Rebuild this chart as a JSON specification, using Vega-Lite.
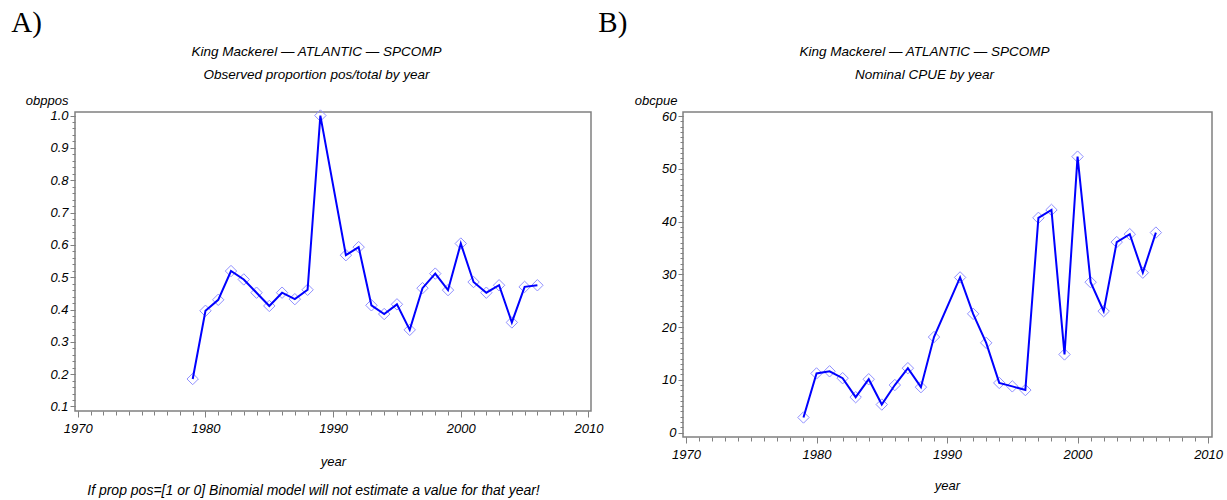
{
  "$schema": "https://vega.github.io/schema/vega-lite/v6.json",
  "background": "white",
  "padding": {"left": 10, "top": 8, "right": 0, "bottom": 0},
  "datasets": {
    "prop": [
      {"year": 1979, "obppos": 0.185},
      {"year": 1980, "obppos": 0.396},
      {"year": 1981, "obppos": 0.430},
      {"year": 1982, "obppos": 0.519},
      {"year": 1983, "obppos": 0.493},
      {"year": 1984, "obppos": 0.452},
      {"year": 1985, "obppos": 0.411},
      {"year": 1986, "obppos": 0.452},
      {"year": 1987, "obppos": 0.432},
      {"year": 1988, "obppos": 0.461},
      {"year": 1989, "obppos": 1.0},
      {"year": 1991, "obppos": 0.568},
      {"year": 1992, "obppos": 0.593},
      {"year": 1993, "obppos": 0.413},
      {"year": 1994, "obppos": 0.386},
      {"year": 1995, "obppos": 0.416},
      {"year": 1996, "obppos": 0.337},
      {"year": 1997, "obppos": 0.466},
      {"year": 1998, "obppos": 0.511},
      {"year": 1999, "obppos": 0.460},
      {"year": 2000, "obppos": 0.604},
      {"year": 2001, "obppos": 0.485},
      {"year": 2002, "obppos": 0.452},
      {"year": 2003, "obppos": 0.475},
      {"year": 2004, "obppos": 0.360},
      {"year": 2005, "obppos": 0.470},
      {"year": 2006, "obppos": 0.475}
    ],
    "cpue": [
      {"year": 1979, "obcpue": 2.85},
      {"year": 1980, "obcpue": 11.2},
      {"year": 1981, "obcpue": 11.6},
      {"year": 1982, "obcpue": 10.3},
      {"year": 1983, "obcpue": 6.7},
      {"year": 1984, "obcpue": 10.1},
      {"year": 1985, "obcpue": 5.3},
      {"year": 1986, "obcpue": 9.0},
      {"year": 1987, "obcpue": 12.2},
      {"year": 1988, "obcpue": 8.6},
      {"year": 1989, "obcpue": 18.1},
      {"year": 1991, "obcpue": 29.4},
      {"year": 1992, "obcpue": 22.5},
      {"year": 1993, "obcpue": 17.0},
      {"year": 1994, "obcpue": 9.4},
      {"year": 1995, "obcpue": 8.75},
      {"year": 1996, "obcpue": 8.05},
      {"year": 1997, "obcpue": 40.7},
      {"year": 1998, "obcpue": 42.2},
      {"year": 1999, "obcpue": 14.8},
      {"year": 2000, "obcpue": 52.3},
      {"year": 2001, "obcpue": 28.5},
      {"year": 2002, "obcpue": 23.0},
      {"year": 2003, "obcpue": 36.1},
      {"year": 2004, "obcpue": 37.6},
      {"year": 2005, "obcpue": 30.3},
      {"year": 2006, "obcpue": 37.9}
    ]
  },
  "config": {
    "view": {"stroke": "#808080", "strokeWidth": 1.5},
    "axis": {
      "labelFont": "Liberation Sans",
      "labelFontStyle": "italic",
      "labelFontSize": 13,
      "labelColor": "#000000",
      "labelFlush": false,
      "labelOverlap": false,
      "labelBound": false,
      "titleFont": "Liberation Sans",
      "titleFontStyle": "italic",
      "titleFontWeight": "normal",
      "titleFontSize": 13,
      "titleColor": "#000000",
      "tickColor": "#808080",
      "tickWidth": 1,
      "domain": false,
      "grid": false
    },
    "title": {
      "font": "Liberation Serif",
      "fontSize": 29,
      "fontWeight": "normal",
      "fontStyle": "normal",
      "color": "#000000",
      "anchor": "start",
      "frame": "bounds",
      "baseline": "alphabetic"
    }
  },
  "spacing": 92,
  "bounds": "flush",
  "hconcat": [
    {
      "width": 516,
      "height": 299,
      "data": {"name": "prop"},
      "title": {"text": "A)", "dx": -14, "offset": 6},
      "layer": [
        {
          "mark": {"type": "point", "shape": "diamond", "filled": false, "size": 130, "stroke": "#9090ff", "strokeWidth": 1, "opacity": 1},
          "encoding": {
            "x": {
              "field": "year", "type": "quantitative",
              "scale": {"domain": [1969.78, 2010.2], "nice": false, "zero": false},
              "axis": {
                "orient": "bottom",
                "values": [1970, 1971, 1972, 1973, 1974, 1975, 1976, 1977, 1978, 1979, 1980, 1981, 1982, 1983, 1984, 1985, 1986, 1987, 1988, 1989, 1990, 1991, 1992, 1993, 1994, 1995, 1996, 1997, 1998, 1999, 2000, 2001, 2002, 2003, 2004, 2005, 2006, 2007, 2008, 2009, 2010],
                "labels": false,
                "tickSize": 4,
                "title": ["King Mackerel — ATLANTIC — SPCOMP", "Observed proportion pos/total by year"],
                "titleFontSize": 13.5,
                "titleLineHeight": 23,
                "titleX": 241,
                "titleY": -356,
                "titleAlign": "center",
                "titleBaseline": "alphabetic"
              }
            },
            "y": {
              "field": "obppos", "type": "quantitative",
              "scale": {"domain": [0.086, 1.011], "nice": false, "zero": false},
              "axis": {
                "orient": "left",
                "values": [0.1, 0.12, 0.14, 0.16, 0.18, 0.2, 0.22, 0.24, 0.26, 0.28, 0.3, 0.32, 0.34, 0.36, 0.38, 0.4, 0.42, 0.44, 0.46, 0.48, 0.5, 0.52, 0.54, 0.56, 0.58, 0.6, 0.62, 0.64, 0.66, 0.68, 0.7, 0.72, 0.74, 0.76, 0.78, 0.8, 0.82, 0.84, 0.86, 0.88, 0.9, 0.92, 0.94, 0.96, 0.98, 1.0],
                "labels": false,
                "tickSize": 3,
                "title": "If prop pos=[1 or 0] Binomial model will not estimate a value for that year!",
                "titleFontSize": 14,
                "titleAngle": 0,
                "titleX": 238,
                "titleY": 382,
                "titleAlign": "center",
                "titleBaseline": "alphabetic"
              }
            }
          }
        },
        {
          "mark": {"type": "line", "color": "#0000ff", "strokeWidth": 2},
          "encoding": {
            "x": {
              "field": "year", "type": "quantitative",
              "scale": {"domain": [1969.78, 2010.2], "nice": false, "zero": false},
              "axis": {
                "orient": "bottom",
                "values": [1970, 1980, 1990, 2000, 2010],
                "format": "d",
                "tickSize": 6,
                "labelPadding": 5,
                "title": "year",
                "titleX": 258,
                "titleY": 54,
                "titleAlign": "center",
                "titleBaseline": "alphabetic"
              }
            },
            "y": {
              "field": "obppos", "type": "quantitative",
              "scale": {"domain": [0.086, 1.011], "nice": false, "zero": false},
              "axis": {
                "orient": "left",
                "values": [0.1, 0.2, 0.3, 0.4, 0.5, 0.6, 0.7, 0.8, 0.9, 1.0],
                "format": ".1f",
                "tickSize": 5,
                "labelPadding": 2,
                "title": "obppos",
                "titleAngle": 0,
                "titleX": -7,
                "titleY": -8,
                "titleAlign": "right",
                "titleBaseline": "alphabetic"
              }
            }
          }
        }
      ],
      "resolve": {"axis": {"x": "independent", "y": "independent"}}
    },
    {
      "width": 529,
      "height": 325,
      "data": {"name": "cpue"},
      "title": {"text": "B)", "dx": -36, "offset": 6},
      "layer": [
        {
          "mark": {"type": "point", "shape": "diamond", "filled": false, "size": 130, "stroke": "#9090ff", "strokeWidth": 1, "opacity": 1},
          "encoding": {
            "x": {
              "field": "year", "type": "quantitative",
              "scale": {"domain": [1969.77, 2010.3], "nice": false, "zero": false},
              "axis": {
                "orient": "bottom",
                "values": [1970, 1971, 1972, 1973, 1974, 1975, 1976, 1977, 1978, 1979, 1980, 1981, 1982, 1983, 1984, 1985, 1986, 1987, 1988, 1989, 1990, 1991, 1992, 1993, 1994, 1995, 1996, 1997, 1998, 1999, 2000, 2001, 2002, 2003, 2004, 2005, 2006, 2007, 2008, 2009, 2010],
                "labels": false,
                "tickSize": 4,
                "title": ["King Mackerel — ATLANTIC — SPCOMP", "Nominal CPUE by year"],
                "titleFontSize": 13.5,
                "titleLineHeight": 23,
                "titleX": 241,
                "titleY": -382,
                "titleAlign": "center",
                "titleBaseline": "alphabetic"
              }
            },
            "y": {
              "field": "obcpue", "type": "quantitative",
              "scale": {"domain": [-0.85, 60.76], "nice": false, "zero": false},
              "axis": {
                "orient": "left",
                "values": [0, 1, 2, 3, 4, 5, 6, 7, 8, 9, 10, 11, 12, 13, 14, 15, 16, 17, 18, 19, 20, 21, 22, 23, 24, 25, 26, 27, 28, 29, 30, 31, 32, 33, 34, 35, 36, 37, 38, 39, 40, 41, 42, 43, 44, 45, 46, 47, 48, 49, 50, 51, 52, 53, 54, 55, 56, 57, 58, 59, 60],
                "labels": false,
                "tickSize": 3,
                "title": null
              }
            }
          }
        },
        {
          "mark": {"type": "line", "color": "#0000ff", "strokeWidth": 2},
          "encoding": {
            "x": {
              "field": "year", "type": "quantitative",
              "scale": {"domain": [1969.77, 2010.3], "nice": false, "zero": false},
              "axis": {
                "orient": "bottom",
                "values": [1970, 1980, 1990, 2000, 2010],
                "format": "d",
                "tickSize": 6,
                "labelPadding": 5,
                "title": "year",
                "titleX": 264,
                "titleY": 52,
                "titleAlign": "center",
                "titleBaseline": "alphabetic"
              }
            },
            "y": {
              "field": "obcpue", "type": "quantitative",
              "scale": {"domain": [-0.85, 60.76], "nice": false, "zero": false},
              "axis": {
                "orient": "left",
                "values": [0, 10, 20, 30, 40, 50, 60],
                "format": "d",
                "tickSize": 5,
                "labelPadding": 2,
                "title": "obcpue",
                "titleAngle": 0,
                "titleX": -6,
                "titleY": -8,
                "titleAlign": "right",
                "titleBaseline": "alphabetic"
              }
            }
          }
        }
      ],
      "resolve": {"axis": {"x": "independent", "y": "independent"}}
    }
  ]
}
